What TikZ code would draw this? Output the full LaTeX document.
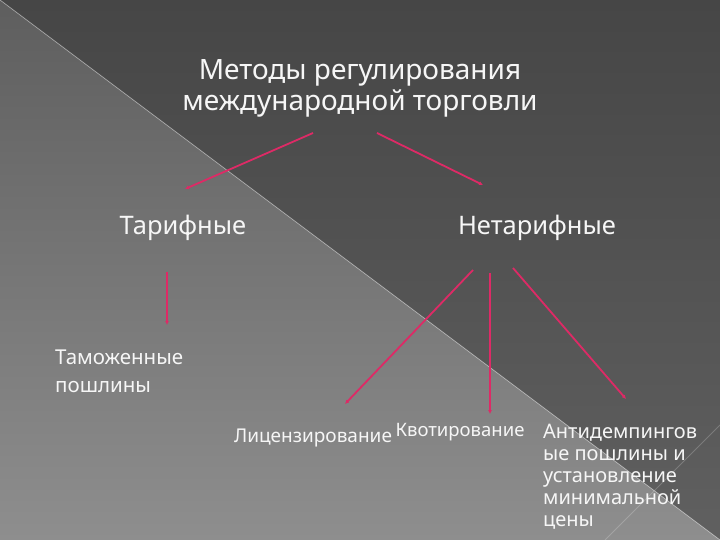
\documentclass[tikz,border=0pt]{standalone}
\usepackage{fontspec}
\setmainfont{Noto Sans}
\usetikzlibrary{arrows.meta}
\definecolor{lnk}{RGB}{222,42,102}
\definecolor{txt}{RGB}{246,246,246}
\definecolor{bgdark}{RGB}{70,70,70}
\definecolor{bgdark2}{RGB}{96,96,96}
\definecolor{bglight}{RGB}{94,94,94}
\definecolor{bglight2}{RGB}{142,142,142}
\begin{document}
\begin{tikzpicture}[x=1pt,y=-1pt,
  lbl/.style={text=txt,inner sep=0pt,font=\fontsize{25.5}{30}\selectfont},
  small/.style={text=txt,inner sep=0pt,align=left},
  conn/.style={draw=lnk,line width=1.8pt,-{Latex[length=4pt,width=4pt]}}]
\useasboundingbox (0,0) rectangle (720,540);
% background
\shade[top color=bgdark,bottom color=bgdark2] (0,0) -- (720,0) -- (720,540) -- cycle;
\shade[top color=bglight,bottom color=bglight2] (0,0) -- (720,540) -- (0,540) -- cycle;
\draw[draw=white,opacity=0.35,line width=0.8pt] (0,0) -- (720,540);
\draw[draw=white,opacity=0.2,line width=0.8pt] (720,425) -- (605,540);
% nodes
\node[text=txt,inner sep=0pt,align=center,font=\fontsize{28}{31}\selectfont] (title) at (360,88) {Методы регулирования\\международной торговли};
\node[lbl] (tarif) at (183,228) {Тарифные};
\node[lbl] (netarif) at (537,228) {Нетарифные};
\node[small,anchor=west,font=\fontsize{20.5}{28}\selectfont] (tamozh) at (55,371) {Таможенные\\пошлины};
\node[small,font=\fontsize{19}{22}\selectfont] (lic) at (313,438) {Лицензирование};
\node[small,font=\fontsize{18.5}{22}\selectfont] (kvot) at (460,432) {Квотирование};
\node[small,anchor=north west,font=\fontsize{20}{22}\selectfont] (anti) at (543,424) {Антидемпингов\\ые пошлины и\\установление\\минимальной\\цены};
% connector endpoints
\coordinate (t1) at (313,133);
\coordinate (t2) at (185,189);
\coordinate (t3) at (377,133);
\coordinate (t4) at (483,185);
\coordinate (a1) at (167,272);
\coordinate (a2) at (167,325);
\coordinate (b1) at (473,270);
\coordinate (b2) at (345,404);
\coordinate (c1) at (490,273);
\coordinate (c2) at (490,414);
\coordinate (d1) at (513,268);
\coordinate (d2) at (626,399);
\draw[conn] (t1) -- (t2);
\draw[conn] (t3) -- (t4);
\draw[conn] (a1) -- (a2);
\draw[conn] (b1) -- (b2);
\draw[conn] (c1) -- (c2);
\draw[conn] (d1) -- (d2);
\end{tikzpicture}
\end{document}
